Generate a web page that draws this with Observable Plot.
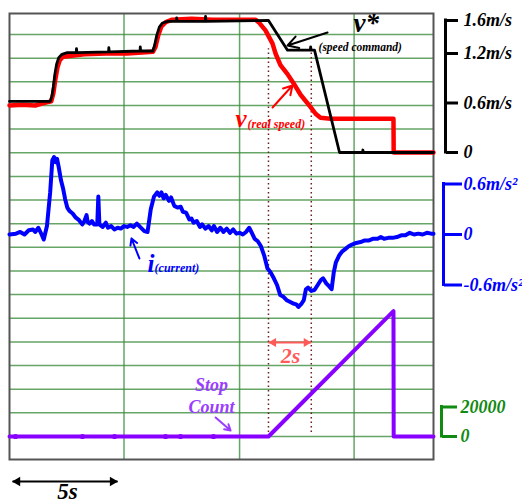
<!DOCTYPE html>
<html><head><meta charset="utf-8">
<script src="https://cdn.jsdelivr.net/npm/d3@7"></script>
<script src="https://cdn.jsdelivr.net/npm/@observablehq/plot@0.6"></script>
<style>
body{margin:0;background:#fff;}
#chart{position:relative;width:522px;height:504px;overflow:hidden;background:#fff;}
#chart svg{position:absolute;left:0;top:0;overflow:visible;background:transparent;}
</style></head><body><div id="chart"></div>
<script>
// ---- time axis (seconds) ----
const timeDomain = [0, 19.81];
const gridCols = [5.35, 10.75, 16.1];
const gridRows = [0,1,2,3,4,5,6,7,8,9,10,11,12,13,14,15,16,17];
const decelMarks = [12.1, 14.1];

// ---- speed (m/s) ----
const speedCmd = [
 [0,0.62],[1.9,0.62],[1.98,0.68],[2.05,0.8],[2.12,0.95],[2.2,1.07],[2.3,1.15],[2.45,1.19],[2.7,1.21],
 [3.12,1.21],[3.13,1.26],[3.15,1.21],[4.63,1.22],[4.64,1.27],[4.66,1.22],[6.1,1.23],[6.11,1.28],[6.13,1.23],[6.7,1.23],
 [6.78,1.3],[6.88,1.42],[7.0,1.52],[7.15,1.57],[7.4,1.59],[7.8,1.59],[7.81,1.63],[7.83,1.59],[9.15,1.59],[9.16,1.65],[9.18,1.59],[12.1,1.6],
 [12.99,1.24],[14.06,1.24],[14.07,1.28],[14.09,1.24],[14.25,1.24],[15.42,0],[16.5,0],[16.51,0.03],[16.53,0],[19.81,0]
];
const speedReal = [
 [0,0.57],[0.6,0.58],[1.2,0.57],[1.6,0.6],[1.95,0.62],[2.05,0.72],[2.15,0.9],[2.25,1.04],[2.35,1.12],[2.5,1.16],
 [2.8,1.17],[3.5,1.19],[4.5,1.2],[5.5,1.2],[6.7,1.22],[6.82,1.28],[6.95,1.42],[7.1,1.53],[7.3,1.58],[7.6,1.61],
 [8.5,1.62],[9.5,1.61],[10.5,1.61],[11.5,1.61],[11.64,1.58],[11.96,1.48],[12.29,1.32],[12.43,1.2],[12.66,1.06],
 [12.99,0.95],[13.27,0.84],[13.6,0.7],[14.07,0.55],[14.3,0.47],[14.53,0.42],[15.0,0.41],[17.94,0.41],[17.95,0],[19.81,0]
];
const speedTicks = [0, 0.6, 1.2, 1.6];
const speedTickLabels = ["0", "0.6m/s", "1.2m/s", "1.6m/s"];

// ---- current / acceleration (m/s²) ----
const current = [
 [0,0],[0.3,0.01],[0.5,0.03],[0.7,0],[0.9,0.05],[1.1,0.06],[1.2,0.03],[1.35,0.08],[1.5,0],[1.6,-0.06],[1.75,0.1],
 [1.9,0.5],[2.0,0.88],[2.08,0.92],[2.15,0.86],[2.22,0.9],[2.3,0.8],[2.4,0.65],[2.5,0.55],[2.6,0.42],[2.7,0.32],
 [2.8,0.28],[2.95,0.25],[3.1,0.2],[3.25,0.17],[3.4,0.12],[3.5,0.16],[3.6,0.23],[3.65,0.15],[3.75,0.13],[3.85,0.16],
 [3.95,0.12],[4.1,0.12],[4.15,0.45],[4.2,0.12],[4.35,0.09],[4.5,0.14],[4.6,0.08],[4.75,0.1],[4.9,0.06],[5.05,0.08],
 [5.2,0.07],[5.35,0.1],[5.5,0.09],[5.65,0.11],[5.8,0.09],[5.95,0.13],[6.1,0.09],[6.3,0.04],[6.45,0.03],[6.6,0.3],
 [6.75,0.45],[6.9,0.5],[7.0,0.46],[7.1,0.5],[7.2,0.43],[7.3,0.47],[7.45,0.4],[7.55,0.44],[7.7,0.34],[7.85,0.32],
 [8.0,0.33],[8.1,0.27],[8.25,0.26],[8.4,0.18],[8.5,0.19],[8.6,0.14],[8.75,0.16],[8.9,0.09],[9.0,0.12],[9.15,0.07],
 [9.3,0.1],[9.45,0.05],[9.55,0.1],[9.7,0.03],[9.85,0.08],[10.0,0.03],[10.15,0.07],[10.3,0.02],[10.45,0.06],[10.6,0.01],
 [10.75,0.02],[10.9,0],[11.05,0.03],[11.2,0.08],[11.3,0.03],[11.45,-0.05],[11.6,-0.08],[11.75,-0.14],[11.9,-0.25],
 [12.05,-0.4],[12.2,-0.45],[12.35,-0.52],[12.5,-0.6],[12.65,-0.72],[12.8,-0.74],[12.95,-0.78],[13.1,-0.8],[13.25,-0.82],
 [13.4,-0.83],[13.5,-0.86],[13.65,-0.82],[13.75,-0.78],[13.85,-0.65],[13.95,-0.63],[14.1,-0.67],[14.25,-0.66],[14.4,-0.6],
 [14.55,-0.54],[14.65,-0.52],[14.8,-0.58],[14.95,-0.62],[15.05,-0.65],[15.15,-0.45],[15.25,-0.33],[15.4,-0.25],
 [15.55,-0.2],[15.7,-0.17],[15.85,-0.14],[16.0,-0.12],[16.2,-0.1],[16.4,-0.09],[16.6,-0.07],[16.8,-0.07],[17.0,-0.05],
 [17.2,-0.05],[17.35,-0.03],[17.5,-0.05],[17.7,-0.04],[17.9,-0.04],[18.1,-0.03],[18.3,-0.01],[18.5,-0.01],[18.7,0.02],
 [18.9,0],[19.1,0.01],[19.3,0],[19.5,0.02],[19.7,0.01],[19.81,0.01]
];
const accelTicks = [-0.6, 0, 0.6];
const accelTickLabels = ["-0.6m/s²", "0", "0.6m/s²"];

// ---- stop count ----
const stopCount = [[0,0],[12.1,0],[17.94,85000],[17.95,0],[19.81,0]];
const countMarkers = [0.28, 3.41, 4.91, 7.29, 7.99, 9.53];
const countTicks = [0, 20000];
const countTickLabels = ["0", "20000"];

// ---- labels ----
const labelCmd = "v*", labelCmdSub = "(speed command)";
const labelReal = "v", labelRealSub = "(real speed)";
const labelCur = "i", labelCurSub = "(current)";
const labelStop = "Stop", labelCount = "Count";
const label2s = "2s", label5s = "5s";

const FONT = "Liberation Serif, Times New Roman, serif";
const BI = {fontFamily: FONT, fontWeight: "bold", fontStyle: "italic"};
const base = {width: 522, height: 504, marginTop: 13, marginBottom: 45, marginLeft: 9, marginRight: 89,
  x: {domain: timeDomain, axis: null}};
const xEnd = timeDomain[1];
const chart = document.getElementById("chart");
function add(opts){ chart.appendChild(Plot.plot({...base, ...opts})); }

const GRID = "#3f8f3f";
// grid layer (y in grid divisions)
add({
  y: {domain: [-0.9725, 17.888], axis: null},
  marks: [
    Plot.ruleY(gridRows, {stroke: GRID, strokeWidth: 1.5, strokeOpacity: 0.8}),
    Plot.ruleX(gridCols, {stroke: GRID, strokeWidth: 1.5, strokeOpacity: 0.8}),
    Plot.ruleX(decelMarks, {y1: 0.17, y2: 16.4, stroke: "#6b1f1f", strokeWidth: 1.5, strokeDasharray: "1.5,3"}),
    Plot.frame({stroke: "#555", strokeWidth: 2}),
    Plot.link([0], {x1: 0.14, x2: 5.05, y1: -1.9, y2: -1.9, stroke: "black", strokeWidth: 2}),
    Plot.dot([0], {x: 0.14, y: -1.9, dx: 5, symbol: "triangle", rotate: -90, r: 3.5, fill: "black", stroke: null}),
    Plot.dot([0], {x: 5.05, y: -1.9, dx: -5, symbol: "triangle", rotate: 90, r: 3.5, fill: "black", stroke: null}),
    Plot.text([label5s], {x: 2.71, y: -2.33, text: d => d, fontSize: 23, ...BI, fill: "black", textAnchor: "middle", lineAnchor: "middle"})
  ]
});

// speed layer
add({
  y: {domain: [-3.7212, 1.6848], axis: null},
  marks: [
    Plot.line(speedReal, {x: d => d[0], y: d => d[1], stroke: "#ff0000", strokeWidth: 4.5}),
    Plot.line(speedCmd, {x: d => d[0], y: d => d[1], stroke: "#000", strokeWidth: 2.8}),
    Plot.ruleX([xEnd], {y1: speedTicks[0], y2: speedTicks[speedTicks.length - 1], dx: 12, stroke: "black", strokeWidth: 3, strokeLinecap: "square"}),
    Plot.axisY(speedTicks, {anchor: "right", dx: 12, tickSize: 12, tickPadding: 6, strokeWidth: 3, stroke: "black", fill: "black",
      tickFormat: d => speedTickLabels[speedTicks.indexOf(d)], fontSize: 18, ...BI, label: null}),
    Plot.text([labelCmd], {x: 16.07, y: 1.4545, text: d => d, fontSize: 27, ...BI, fill: "black", textAnchor: "start", lineAnchor: "bottom"}),
    Plot.text([labelCmdSub], {x: 14.44, y: 1.236, text: d => d, fontSize: 11.5, ...BI, fill: "black", textAnchor: "start", lineAnchor: "bottom"}),
    Plot.arrow([0], {x1: 14.86, y1: 1.4545, x2: 12.99, y2: 1.297, stroke: "black", strokeWidth: 2, headLength: 9}),
    Plot.text([labelReal], {x: 10.56, y: 0.315, text: d => d, fontSize: 25, ...BI, fill: "#ff0000", textAnchor: "start", lineAnchor: "bottom"}),
    Plot.text([labelRealSub], {x: 11.12, y: 0.30, text: d => d, fontSize: 12, ...BI, fill: "#ff0000", textAnchor: "start", lineAnchor: "bottom"}),
    Plot.arrow([0], {x1: 12.29, y1: 0.545, x2: 13.22, y2: 0.812, stroke: "#ff0000", strokeWidth: 2, headLength: 8})
  ]
});

// acceleration layer
const BLUE = "#0000ff";
add({
  y: {domain: [-2.6732, 2.6256], axis: null},
  marks: [
    Plot.line(current, {x: d => d[0], y: d => d[1], stroke: BLUE, strokeWidth: 4}),
    Plot.ruleX([xEnd], {y1: accelTicks[0], y2: accelTicks[accelTicks.length - 1], dx: 10, stroke: BLUE, strokeWidth: 3, strokeLinecap: "square"}),
    Plot.axisY(accelTicks, {anchor: "right", dx: 10, tickSize: 18, tickPadding: 2, strokeWidth: 3, stroke: BLUE, fill: BLUE,
      tickFormat: d => accelTickLabels[accelTicks.indexOf(d)], fontSize: 18, ...BI, label: null}),
    Plot.text([labelCur], {x: 6.45, y: -0.4515, text: d => d, fontSize: 25, ...BI, fill: BLUE, textAnchor: "start", lineAnchor: "bottom"}),
    Plot.text([labelCurSub], {x: 6.78, y: -0.44, text: d => d, fontSize: 12, ...BI, fill: BLUE, textAnchor: "start", lineAnchor: "bottom"}),
    Plot.arrow([0], {x1: 6.07, y1: -0.285, x2: 5.70, y2: -0.0475, stroke: BLUE, strokeWidth: 2, headLength: 8})
  ]
});

// stop count layer
const PURPLE = "#8800ff", PURPLE_T = "#9a3dff", GREEN = "#118a11", SALMON = "#ff5a5a";
add({
  y: {domain: [-15593, 286780], axis: null},
  marks: [
    Plot.line(stopCount, {x: d => d[0], y: d => d[1], stroke: PURPLE, strokeWidth: 4}),
    Plot.dot(countMarkers, {x: d => d, y: 0, r: 2.6, fill: PURPLE, stroke: null}),
    Plot.ruleX([xEnd], {y1: countTicks[0], y2: countTicks[countTicks.length - 1], dx: 8, stroke: GREEN, strokeWidth: 3, strokeLinecap: "square"}),
    Plot.axisY(countTicks, {anchor: "right", dx: 8, tickSize: 15, tickPadding: 4, strokeWidth: 3, stroke: GREEN, fill: GREEN,
      tickFormat: d => countTickLabels[countTicks.indexOf(d)], fontSize: 18, ...BI, label: null}),
    Plot.text([labelStop], {x: 9.44, y: 34576, text: d => d, fontSize: 18, ...BI, fill: PURPLE_T, textAnchor: "middle", lineAnchor: "middle"}),
    Plot.text([labelCount], {x: 9.44, y: 19661, text: d => d, fontSize: 18, ...BI, fill: PURPLE_T, textAnchor: "middle", lineAnchor: "middle"}),
    Plot.arrow([0], {x1: 9.63, y1: 12881, x2: 10.33, y2: 4068, stroke: PURPLE_T, strokeWidth: 2, headLength: 8}),
    Plot.link([0], {x1: decelMarks[0], x2: decelMarks[1], y1: 63729, y2: 63729, stroke: SALMON, strokeWidth: 2}),
    Plot.dot([0], {x: decelMarks[0], y: 63729, dx: 5, symbol: "triangle", rotate: -90, r: 3.3, fill: SALMON, stroke: null}),
    Plot.dot([0], {x: decelMarks[1], y: 63729, dx: -5, symbol: "triangle", rotate: 90, r: 3.3, fill: SALMON, stroke: null}),
    Plot.text([label2s], {x: 13.13, y: 54915, text: d => d, fontSize: 22, ...BI, fill: SALMON, textAnchor: "middle", lineAnchor: "middle"})
  ]
});
</script></body></html>
